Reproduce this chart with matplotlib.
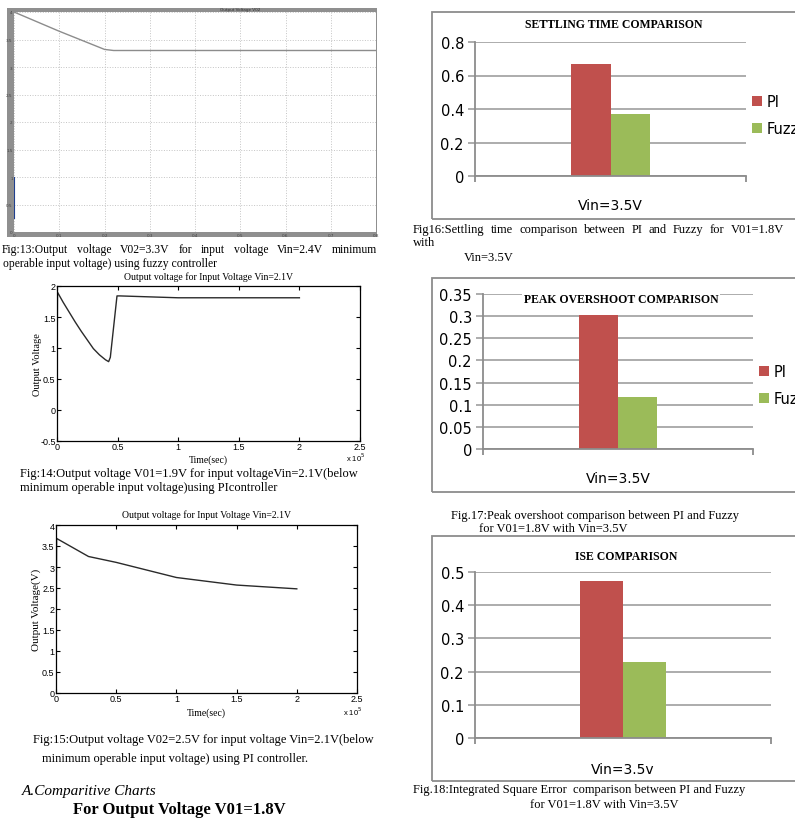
import matplotlib
matplotlib.use("Agg")
import matplotlib.pyplot as plt
from matplotlib.patches import Rectangle

W, H = 795, 820

# ---- data ----
# Fig 13: fuzzy controller, V02 (time axis 0..0.8)
f13_t = [0.0, 0.1, 0.2, 0.22, 0.8]
f13_v = [4.0, 3.65, 3.32, 3.3, 3.3]
f13_start_t = [0.001, 0.001]
f13_start_v = [0.25, 1.0]

# Fig 14: PI controller, V01 (time in units of 1e5)
f14_t = [0.0, 0.004, 0.05, 0.1, 0.15, 0.2, 0.25, 0.3, 0.35, 0.4, 0.426,
         0.44, 0.495, 0.52, 1.0, 2.0]
f14_v = [0.45, 1.9, 1.74, 1.58, 1.42, 1.27, 1.13, 0.99, 0.89, 0.81, 0.78,
         0.85, 1.84, 1.84, 1.81, 1.81]

# Fig 15: PI controller, V02
f15_t = [0.0, 0.005, 0.27, 0.5, 1.0, 1.5, 2.0]
f15_v = [0.0, 3.68, 3.25, 3.11, 2.75, 2.57, 2.48]

# comparison charts
series = ["PI", "Fuzzy"]
settling = [0.67, 0.37]
overshoot = [0.302, 0.118]
ise = [0.473, 0.23]
settling_ticks = ["0", "0.2", "0.4", "0.6", "0.8"]
overshoot_ticks = ["0", "0.05", "0.1", "0.15", "0.2", "0.25", "0.3", "0.35"]
ise_ticks = ["0", "0.1", "0.2", "0.3", "0.4", "0.5"]

red = "#C0504D"
green = "#9BBB59"
SERIF = "Liberation Serif"
SANS = "DejaVu Sans"

fig = plt.figure(figsize=(W / 100, H / 100), dpi=100)
fig.patch.set_facecolor("white")


def px(x, y):
    return x / W, 1 - y / H


def add_ax(x0, y0, x1, y1):
    return fig.add_axes([x0 / W, 1 - y1 / H, (x1 - x0) / W, (y1 - y0) / H])


def ftext(x, y, s, **kw):
    kw.setdefault("family", SERIF)
    kw.setdefault("va", "baseline")
    return fig.text(*px(x, y), s, **kw)


def justify(line, x0, x1, y, **kw):
    words = line.split()
    objs = [ftext(0, y, w, **kw) for w in words]
    r = fig.canvas.get_renderer()
    widths = [o.get_window_extent(r).width for o in objs]
    gap = (x1 - x0 - sum(widths)) / (len(words) - 1)
    x = x0
    for o, w in zip(objs, widths):
        o.set_position(px(x, y))
        x += w + gap


# ---------------- Fig 13 (scope window) ----------------
fig.patches.append(Rectangle(px(7, 238), 370 / W, 229 / H, transform=fig.transFigure,
                             facecolor="#8f8f8f", edgecolor="none", zorder=-5))
ax13 = add_ax(14, 13, 376, 233)
ax13.plot(f13_t, f13_v, color="#8c8c8c", lw=1)
ax13.plot(f13_start_t, f13_start_v, color="#1f3f8f", lw=0.8)
ax13.set_xlim(0, 0.8)
ax13.set_ylim(0, 4)
ax13.set_xticks([i / 10 for i in range(9)])
ax13.set_yticks([i / 2 for i in range(9)])
ax13.set_xticklabels(["0", "0.1", "0.2", "0.3", "0.4", "0.5", "0.6", "0.7", "0.8"])
ax13.set_yticklabels(["0", "0.5", "1", "1.5", "2", "2.5", "3", "3.5", "4"])
ax13.tick_params(labelsize=3, colors="#444444", length=0, pad=1)
ax13.grid(True, color="#c4c4c4", ls=":", lw=0.7)
for s in ax13.spines.values():
    s.set_visible(False)
ftext(240, 11, "Output Voltage V02", fontsize=3, color="#333333", ha="center", family=SANS)

justify("Fig:13:Output voltage V02=3.3V for input voltage Vin=2.4V minimum", 2, 377, 253, fontsize=8.4)
ftext(3, 267, "operable input voltage) using fuzzy controller", fontsize=8.4)


def matlab_axes(ax, xmax, yticks, ylabels):
    ax.set_xlim(0, xmax)
    ax.set_xticks([0, 0.5, 1, 1.5, 2, 2.5])
    ax.set_xticklabels(["0", "0.5", "1", "1.5", "2", "2.5"])
    ax.set_yticks(yticks)
    ax.set_yticklabels(ylabels)
    ax.set_ylim(yticks[0], yticks[-1])
    ax.tick_params(direction="in", top=True, right=True, length=3, width=0.8,
                   labelsize=6.5, pad=1)
    for lab in ax.get_xticklabels() + ax.get_yticklabels():
        lab.set_family("Liberation Sans")
    for s in ax.spines.values():
        s.set_linewidth(0.9)


# ---------------- Fig 14 ----------------
ax14 = add_ax(57, 287, 360, 442)
ax14.plot(f14_t, f14_v, color="#2a2a2a", lw=1)
matlab_axes(ax14, 2.5, [-0.5, 0, 0.5, 1, 1.5, 2], ["-0.5", "0", "0.5", "1", "1.5", "2"])
ax14.set_title("Output voltage for Input Voltage Vin=2.1V", family=SERIF, fontsize=7, pad=5)
ax14.set_xlabel("Time(sec)", family=SERIF, fontsize=7, labelpad=2)
ax14.set_ylabel("Output Voltage", family=SERIF, fontsize=7.5, labelpad=-1)
ftext(346, 462, r"x 10$^5$", fontsize=5.5, family="Liberation Sans")
ftext(20, 477, "Fig:14:Output voltage V01=1.9V for input voltageVin=2.1V(below", fontsize=9)
ftext(20, 491, "minimum operable input voltage)using PIcontroller", fontsize=9)

# ---------------- Fig 15 ----------------
ax15 = add_ax(56, 526, 357, 694)
ax15.plot(f15_t, f15_v, color="#2a2a2a", lw=1)
matlab_axes(ax15, 2.5, [0, 0.5, 1, 1.5, 2, 2.5, 3, 3.5, 4],
            ["0", "0.5", "1", "1.5", "2", "2.5", "3", "3.5", "4"])
ax15.set_title("Output voltage for Input Voltage Vin=2.1V", family=SERIF, fontsize=7, pad=6)
ax15.set_xlabel("Time(sec)", family=SERIF, fontsize=7, labelpad=3)
ax15.set_ylabel("Output Voltage(V)", family=SERIF, fontsize=8, labelpad=1)
ftext(343, 716, r"x 10$^5$", fontsize=5.5, family="Liberation Sans")
ftext(33, 743, "Fig:15:Output voltage V02=2.5V for input voltage Vin=2.1V(below", fontsize=9)
ftext(42, 762, "minimum operable input voltage) using PI controller.", fontsize=9)
ftext(22, 795, "A.Comparitive Charts", fontsize=11, style="italic")
ftext(73, 814, "For Output Voltage V01=1.8V", fontsize=12, weight="bold")


# ---------------- comparison bar charts ----------------
def bar_chart(box, axbox, values, ticklabels, title, title_y, cat, label_pad,
              legend_at=None, title_bg=False, bar_w=0.29):
    fx0, fy0, fy1 = box
    fig.patches.append(Rectangle(px(fx0, fy1), (W + 20 - fx0) / W, (fy1 - fy0) / H,
                                 transform=fig.transFigure, facecolor="none",
                                 edgecolor="#8c8c8c", lw=1.3, zorder=-5))
    ax = add_ax(*axbox)
    yt = [float(t) for t in ticklabels]
    b1 = ax.bar(-bar_w / 2, values[0], bar_w, color=red, label=series[0], zorder=3)
    b2 = ax.bar(bar_w / 2, values[1], bar_w, color=green, label=series[1], zorder=3)
    ax.set_xlim(-1, 1)
    ax.set_ylim(0, yt[-1])
    ax.set_yticks(yt)
    ax.set_yticklabels(ticklabels)
    ax.set_xticks([0])
    ax.set_xticklabels([cat])
    ax.set_xticks([-1, 1], minor=True)
    ax.tick_params(axis="x", which="major", length=0, pad=label_pad, labelsize=10)
    ax.tick_params(axis="x", which="minor", length=4, width=1.3, color="#8c8c8c")
    ax.tick_params(axis="y", length=5, width=1.3, color="#a6a6a6", labelsize=10.5, pad=3)
    ax.set_axisbelow(True)
    ax.yaxis.grid(True, color="#a6a6a6", lw=1.3)
    ax.patch.set_alpha(0)
    for s in ["top", "right"]:
        ax.spines[s].set_visible(False)
    for s in ["left", "bottom"]:
        ax.spines[s].set_color("#8c8c8c")
        ax.spines[s].set_linewidth(1.3)
    ax.spines["bottom"].set_zorder(4)
    x0, x1 = axbox[0], axbox[2]
    t = ftext((x0 + x1) / 2 + 3, title_y, title, fontsize=8.5, weight="bold", ha="center")
    if title_bg:
        t.set_bbox(dict(facecolor="white", edgecolor="none", pad=1))
    if legend_at is not None:
        ax.legend(handles=[b1, b2], loc="upper left", bbox_to_anchor=px(*legend_at),
                  bbox_transform=fig.transFigure, frameon=False, fontsize=10.5,
                  handlelength=0.7, handleheight=0.7, handletextpad=0.3,
                  labelspacing=0.85, borderpad=0, borderaxespad=0)
    return ax


bar_chart((432, 13, 220), (475, 43, 746, 177), settling, settling_ticks,
          "SETTLING TIME COMPARISON", 28, "Vin=3.5V", 16, legend_at=(752, 95))
justify("Fig16:Settling time comparison between PI and Fuzzy for V01=1.8V", 413, 784, 233, fontsize=9)
ftext(413, 246, "with", fontsize=9)
ftext(464, 261, "Vin=3.5V", fontsize=9)

bar_chart((432, 279, 493), (483, 295, 753, 450), overshoot, overshoot_ticks,
          "PEAK OVERSHOOT COMPARISON", 303, "Vin=3.5V", 16, legend_at=(759, 365),
          title_bg=True)
ftext(451, 519, "Fig.17:Peak overshoot comparison between PI and Fuzzy", fontsize=9)
ftext(479, 532, "for V01=1.8V with Vin=3.5V", fontsize=9)

bar_chart((432, 537, 782), (475, 573, 771, 739), ise, ise_ticks,
          "ISE COMPARISON", 560, "Vin=3.5v", 17)
ftext(413, 793, "Fig.18:Integrated Square Error  comparison between PI and Fuzzy", fontsize=9)
ftext(530, 808, "for V01=1.8V with Vin=3.5V", fontsize=9)

fig.savefig("out.png", dpi=100)
